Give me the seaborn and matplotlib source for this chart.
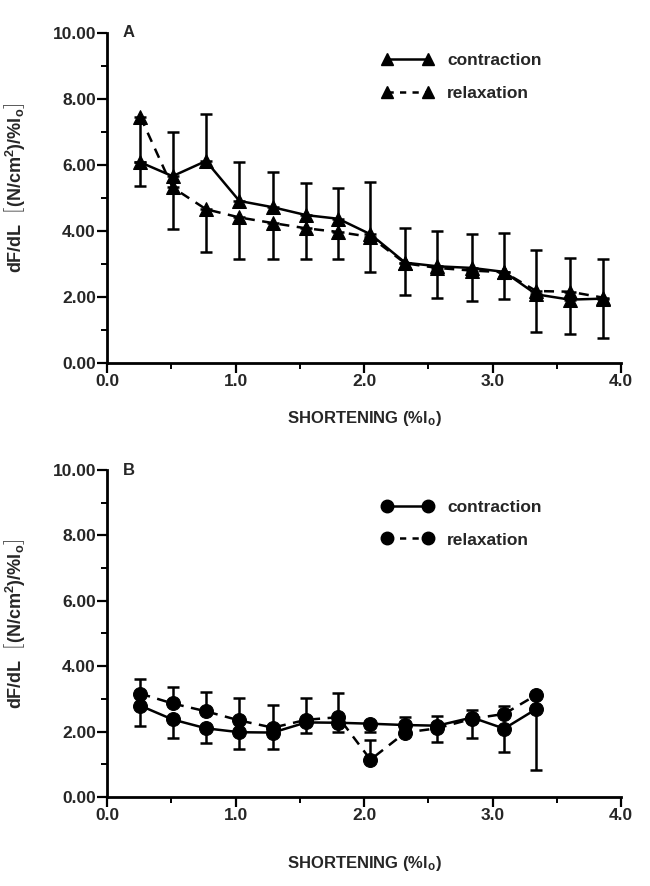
import matplotlib
matplotlib.use("Agg")
import matplotlib.pyplot as plt
from matplotlib.lines import Line2D
from matplotlib.ticker import MultipleLocator, FormatStrFormatter
import numpy as np
import pandas as pd
import seaborn as sns

# ---- data -------------------------------------------------------------
# Panel A (triangles)
a_x = [0.26, 0.51, 0.77, 1.03, 1.29, 1.55, 1.80, 2.05, 2.32, 2.57, 2.84, 3.09, 3.34, 3.60, 3.86]
a_contraction = [6.08, 5.66, 6.12, 4.91, 4.72, 4.48, 4.37, 3.90, 3.04, 2.93, 2.88, 2.76, 2.08, 1.92, 1.95]
a_relaxation = [7.46, 5.32, 4.66, 4.41, 4.24, 4.08, 3.97, 3.82, 3.02, 2.88, 2.80, 2.75, 2.18, 2.16, 1.98]
a_contraction_err_up = [0.00, 1.35, 1.42, 1.17, 1.07, 0.96, 0.94, 1.58, 1.04, 1.07, 1.04, 1.17, 1.34, 1.25, 1.21]
a_relaxation_err_dn = [2.09, 1.27, 1.29, 1.26, 1.10, 0.94, 0.83, 1.07, 0.96, 0.92, 0.92, 0.82, 1.25, 1.28, 1.21]

# Panel B (circles)
b_x = [0.26, 0.51, 0.77, 1.03, 1.29, 1.55, 1.80, 2.05, 2.32, 2.57, 2.84, 3.09, 3.34]
b_contraction = [2.79, 2.37, 2.10, 1.98, 1.97, 2.28, 2.27, 2.24, 2.20, 2.18, 2.43, 2.09, 2.69]
b_relaxation = [3.16, 2.86, 2.62, 2.34, 2.12, 2.36, 2.44, 1.14, 1.97, 2.10, 2.39, 2.54, 3.12]
b_relaxation_err_up = [0.46, 0.51, 0.59, 0.70, 0.69, 0.68, 0.75, 0.60, 0.47, 0.39, 0.27, 0.25, 0.00]
b_contraction_err_dn = [0.62, 0.56, 0.46, 0.50, 0.49, 0.32, 0.28, 0.25, 0.20, 0.49, 0.64, 0.70, 1.86]

series_names = ["contraction", "relaxation"]
x_ticks = [0.0, 1.0, 2.0, 3.0, 4.0]
y_ticks = [0.0, 2.0, 4.0, 6.0, 8.0, 10.0]
panel_letters = ["A", "B"]

# ---- style ------------------------------------------------------------
sns.set_theme(style="ticks")
plt.rcParams["font.family"] = ["Liberation Sans", "DejaVu Sans"]
plt.rcParams["font.weight"] = "bold"
plt.rcParams["mathtext.fontset"] = "custom"
plt.rcParams["mathtext.rm"] = "Liberation Sans:bold"
plt.rcParams["mathtext.it"] = "Liberation Sans:bold"
plt.rcParams["mathtext.bf"] = "Liberation Sans:bold"

LW = 1.8
DASH = (4, 3)

fig = plt.figure(figsize=(6.5, 8.86), dpi=100)
ax_a = fig.add_axes([0.1646, 0.5903, 0.791, 0.3725])
ax_b = fig.add_axes([0.1646, 0.1005, 0.791, 0.3690])


def draw_panel(ax, x, cont, relax, up_err, dn_err, up_series, marker, msize,
               letter, legend_y, xlabel_pad):
    df = pd.DataFrame({
        "x": list(x) * 2,
        "y": list(cont) + list(relax),
        "phase": ["contraction"] * len(x) + ["relaxation"] * len(x),
    })
    sns.lineplot(data=df, x="x", y="y", style="phase",
                 markers={"contraction": marker, "relaxation": marker},
                 dashes={"contraction": "", "relaxation": DASH},
                 color="black", linewidth=LW, markersize=msize,
                 markeredgecolor="black", markerfacecolor="black",
                 legend=False, ax=ax, zorder=3)

    # one-sided error bars
    if up_series == "contraction":
        up_y, dn_y = cont, relax
    else:
        up_y, dn_y = relax, cont
    ax.errorbar(x, up_y, yerr=[np.zeros(len(x)), up_err], fmt="none",
                ecolor="black", elinewidth=LW, capsize=4, capthick=LW, zorder=2)
    ax.errorbar(x, dn_y, yerr=[dn_err, np.zeros(len(x))], fmt="none",
                ecolor="black", elinewidth=LW, capsize=4, capthick=LW, zorder=2)

    ax.set_xlim(0, 4.0)
    ax.set_ylim(0, 10.0)
    ax.set_xticks(x_ticks)
    ax.set_yticks(y_ticks)
    ax.xaxis.set_minor_locator(MultipleLocator(0.5))
    ax.yaxis.set_minor_locator(MultipleLocator(1.0))
    ax.xaxis.set_major_formatter(FormatStrFormatter("%.1f"))
    ax.yaxis.set_major_formatter(FormatStrFormatter("%.2f"))
    ax.tick_params(axis="both", which="major", direction="out", length=7,
                   width=1.6, labelsize=12.5, pad=1, color="black")
    ax.tick_params(axis="both", which="minor", direction="out", length=4,
                   width=1.4, color="black")
    for lab in ax.get_xticklabels() + ax.get_yticklabels():
        lab.set_fontweight("bold")
    sns.despine(ax=ax)
    for side in ("left", "bottom"):
        ax.spines[side].set_linewidth(2.0)
        ax.spines[side].set_color("black")

    ax.set_xlabel(r"SHORTENING (%l$_{\mathrm{o}}$)", fontsize=12, fontweight="bold",
                  labelpad=xlabel_pad)
    ax.set_ylabel(r"dF/dL  $\left[(\mathrm{N/cm}^{2})/\%\mathrm{l}_{\mathrm{o}}\right]$",
                  fontsize=13, fontweight="bold")
    ax.yaxis.set_label_coords(-0.155, 0.53)
    ax.text(0.03, 1.0, letter, transform=ax.transAxes, fontsize=12,
            fontweight="bold", va="center", ha="left")

    handles = [
        Line2D([0], [0], color="black", lw=LW, marker=marker, markersize=msize - 1),
        Line2D([0], [0], color="black", lw=LW, marker=marker, markersize=msize - 1,
               dashes=(2.5, 2.5)),
    ]
    leg = ax.legend(handles, series_names, loc="upper left",
                    bbox_to_anchor=(0.52, legend_y),
                    frameon=False, numpoints=2, handlelength=3.0, handletextpad=0.8,
                    labelspacing=1.0, fontsize=12.5, borderaxespad=0)
    for t in leg.get_texts():
        t.set_fontweight("bold")


draw_panel(ax_a, a_x, a_contraction, a_relaxation, a_contraction_err_up,
           a_relaxation_err_dn, "contraction", "^", 10, panel_letters[0], 0.96, 14)
draw_panel(ax_b, b_x, b_contraction, b_relaxation, b_relaxation_err_up,
           b_contraction_err_dn, "relaxation", "o", 10, panel_letters[1], 0.93, 22)

fig.savefig("out.png", dpi=100, facecolor="white")
